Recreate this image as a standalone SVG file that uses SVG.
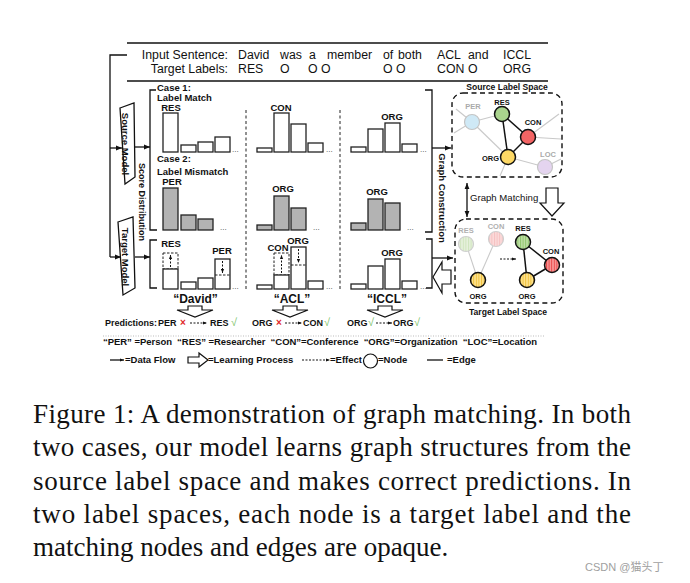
<svg xmlns="http://www.w3.org/2000/svg" width="690" height="583" viewBox="0 0 690 583">
<defs>
<style>
.t{font-family:"Liberation Sans",Arial,sans-serif;font-weight:bold;fill:#111}
.r{font-family:"Liberation Sans",Arial,sans-serif;fill:#111}
.m{text-anchor:middle}
.cap{font-family:"Liberation Serif","Times New Roman",serif;font-size:27px;fill:#111}
.bar{fill:#fff;stroke:#222;stroke-width:1.3}
.gbar{fill:#b3b3b3;stroke:#222;stroke-width:1.3}
.dbar{fill:none;stroke:#222;stroke-width:1;stroke-dasharray:2.5,1.5}
.ln{stroke:#111;stroke-width:1.3;fill:none}
.sep{stroke:#222;stroke-width:1;stroke-dasharray:3,2.5}
.ge{stroke:#c9c9c9;stroke-width:1.1}
.be{stroke:#111;stroke-width:1.5}
.box{fill:none;stroke:#111;stroke-width:1.4;stroke-dasharray:5,3.5}
.hol{fill:#fff;stroke:#111;stroke-width:1.2}
.da{stroke:#111;stroke-width:1;stroke-dasharray:2,1.5;fill:none}
.dots{font-family:"Liberation Sans",Arial,sans-serif;font-size:8px;fill:#444}
.x{font-family:"Liberation Sans",Arial,sans-serif;font-weight:bold;font-size:10px;fill:#e02828}
.ok{font-family:"Liberation Sans",Arial,sans-serif;font-size:11px;fill:#78bf63}
</style>
<marker id="ah" viewBox="0 0 10 10" refX="10" refY="5" markerWidth="6" markerHeight="6" markerUnits="userSpaceOnUse" orient="auto-start-reverse"><path d="M0,1 L10,5 L0,9 z" fill="#111"/></marker>
<marker id="as" viewBox="0 0 10 10" refX="10" refY="5" markerWidth="4" markerHeight="4" markerUnits="userSpaceOnUse" orient="auto-start-reverse"><path d="M0,1 L10,5 L0,9 z" fill="#111"/></marker>
<pattern id="pg" width="2.6" height="4" patternUnits="userSpaceOnUse"><rect width="2.6" height="4" fill="#bfe0a6"/><rect width="1" height="4" fill="#8fc46c"/></pattern>
<pattern id="py" width="2.6" height="4" patternUnits="userSpaceOnUse"><rect width="2.6" height="4" fill="#fde38f"/><rect width="1" height="4" fill="#efbf3a"/></pattern>
<pattern id="pr" width="2.6" height="4" patternUnits="userSpaceOnUse"><rect width="2.6" height="4" fill="#f89a9a"/><rect width="1" height="4" fill="#e64848"/></pattern>
<pattern id="pgf" width="2.6" height="4" patternUnits="userSpaceOnUse"><rect width="2.6" height="4" fill="#e6f1dc"/><rect width="1" height="4" fill="#cfe4bd"/></pattern>
<pattern id="prf" width="2.6" height="4" patternUnits="userSpaceOnUse"><rect width="2.6" height="4" fill="#fbdada"/><rect width="1" height="4" fill="#f5c0c0"/></pattern>
</defs>
<rect width="690" height="583" fill="#fff"/>

<g id="header">
<line x1="127" y1="43" x2="548" y2="43" stroke="#111" stroke-width="1.6"/>
<line x1="127" y1="81" x2="548" y2="81" stroke="#111" stroke-width="1.3"/>
<text class="r" font-size="12.3" x="228" y="59" text-anchor="end">Input Sentence:</text>
<text class="r" font-size="12.3" x="228" y="73" text-anchor="end">Target Labels:</text>
<g class="r" font-size="12.3">
<text x="238" y="59">David</text><text x="280" y="59">was</text><text x="309" y="59">a</text><text x="327" y="59">member</text><text x="383" y="59">of</text><text x="398" y="59">both</text><text x="437" y="59">ACL</text><text x="468" y="59">and</text><text x="503" y="59">ICCL</text>
<text x="238" y="73">RES</text><text x="280" y="73">O</text><text x="308" y="73">O</text><text x="321" y="73">O</text><text x="383" y="73">O</text><text x="396" y="73">O</text><text x="437" y="73">CON</text><text x="468" y="73">O</text><text x="503" y="73">ORG</text>
</g>
</g>

<g id="source-model">
<polygon points="120,108 134,103 135,177 125,184" fill="#fff" stroke="#111" stroke-width="1.3"/>
<text class="t m" font-size="9.5" transform="translate(125,144) rotate(90)" dy="3.3">Source Model</text>
</g>
<g id="target-model">
<polygon points="118,222 133,217 135,288 123,295" fill="#fff" stroke="#111" stroke-width="1.3"/>
<text class="t m" font-size="9.5" transform="translate(125,257) rotate(90)" dy="3.3">Target Model</text>
</g>
<g id="score-distribution">
<text class="t m" font-size="9" transform="translate(142,202) rotate(90)" dy="3">Score Distribution</text>
</g>

<g id="case-labels">
<text class="t" font-size="9.5" x="157" y="91">Case 1:</text>
<text class="t" font-size="9.5" x="157" y="101">Label Match</text>
<text class="t" font-size="9.5" x="157" y="162">Case 2:</text>
<text class="t" font-size="9.5" x="157" y="175">Label Mismatch</text>
</g>

<g id="separators">
<line class="sep" x1="246" y1="110" x2="246" y2="289"/>
<line class="sep" x1="340" y1="110" x2="340" y2="289"/>
</g>

<g id="bars-david">
<text class="t m" font-size="9.5" x="171" y="111">RES</text>
<rect class="bar" x="163" y="113" width="15" height="39"/>
<rect class="bar" x="181" y="145" width="15" height="7"/>
<rect class="bar" x="198" y="142" width="15" height="10"/>
<rect class="bar" x="215" y="137" width="15" height="15"/>
<text class="dots" x="232" y="152">...</text>
<text class="t m" font-size="9.5" x="172" y="185">PER</text>
<rect class="gbar" x="163" y="188" width="15" height="42"/>
<rect class="gbar" x="181" y="215" width="15" height="15"/>
<rect class="gbar" x="198" y="219" width="15" height="11"/>
<text class="dots" x="220" y="230">...</text>
<text class="t m" font-size="9.5" x="171" y="247">RES</text>
<rect class="dbar" x="163" y="253" width="15" height="16"/>
<rect class="bar" x="163" y="269" width="15" height="20"/>
<line class="da" x1="170.5" y1="267" x2="170.5" y2="255" marker-end="url(#as)"/>
<rect class="bar" x="181" y="282" width="15" height="7"/>
<rect class="bar" x="198" y="278" width="15" height="11"/>
<text class="t m" font-size="9.5" x="222" y="254">PER</text>
<rect class="bar" x="215" y="259" width="15" height="30"/>
<line class="dbar" x1="215" y1="275" x2="230" y2="275"/>
<line class="da" x1="222.5" y1="261" x2="222.5" y2="273" marker-end="url(#as)"/>
<text class="dots" x="232" y="289">...</text>
</g>

<g id="bars-acl">
<text class="t m" font-size="9.5" x="281" y="111">CON</text>
<rect class="bar" x="257" y="148" width="15" height="4"/>
<rect class="bar" x="274" y="113" width="15" height="39"/>
<rect class="bar" x="291" y="124" width="15" height="28"/>
<rect class="bar" x="308" y="143" width="15" height="9"/>
<text class="dots" x="326" y="152">...</text>
<text class="t m" font-size="9.5" x="283" y="192">ORG</text>
<rect class="gbar" x="257" y="225" width="15" height="5"/>
<rect class="gbar" x="274" y="196" width="15" height="34"/>
<rect class="gbar" x="291" y="208" width="15" height="22"/>
<text class="dots" x="313" y="230">...</text>
<text class="t m" font-size="9.5" x="278" y="251">CON</text>
<text class="t m" font-size="9.5" x="298" y="244">ORG</text>
<rect class="bar" x="257" y="285" width="15" height="4"/>
<rect class="dbar" x="274" y="253" width="15" height="22"/>
<rect class="bar" x="274" y="275" width="15" height="14"/>
<line class="da" x1="281.5" y1="273" x2="281.5" y2="255" marker-end="url(#as)"/>
<rect class="bar" x="291" y="247" width="15" height="42"/>
<line class="dbar" x1="291" y1="265" x2="306" y2="265"/>
<line class="da" x1="298.5" y1="249" x2="298.5" y2="263" marker-end="url(#as)"/>
<rect class="bar" x="308" y="281" width="15" height="8"/>
<text class="dots" x="326" y="289">...</text>
</g>

<g id="bars-iccl">
<text class="t m" font-size="9.5" x="392" y="120">ORG</text>
<rect class="bar" x="351" y="147" width="15" height="5"/>
<rect class="bar" x="368" y="129" width="15" height="23"/>
<rect class="bar" x="385" y="123" width="15" height="29"/>
<rect class="bar" x="402" y="144" width="15" height="8"/>
<text class="dots" x="420" y="152">...</text>
<text class="t m" font-size="9.5" x="377" y="195">ORG</text>
<rect class="gbar" x="351" y="223" width="15" height="7"/>
<rect class="gbar" x="368" y="199" width="15" height="31"/>
<rect class="gbar" x="385" y="203" width="15" height="27"/>
<text class="dots" x="407" y="230">...</text>
<text class="t m" font-size="9.5" x="392" y="256">ORG</text>
<rect class="bar" x="351" y="284" width="15" height="5"/>
<rect class="bar" x="368" y="266" width="15" height="23"/>
<rect class="bar" x="385" y="259" width="15" height="30"/>
<rect class="bar" x="402" y="281" width="15" height="8"/>
<text class="dots" x="420" y="289">...</text>
</g>

<g id="graph-construction">
<text class="t m" font-size="9.5" transform="translate(442,198) rotate(90)" dy="3.3">Graph Construction</text>
</g>

<g id="source-label-space">
<text class="t m" font-size="8.6" x="507" y="90">Source Label Space</text>
<rect class="box" x="452" y="93" width="110" height="84" rx="11"/>
<line class="ge" x1="472" y1="122" x2="456" y2="109"/>
<line class="ge" x1="472" y1="122" x2="454" y2="133"/>
<line class="ge" x1="472" y1="122" x2="502" y2="114"/>
<line class="ge" x1="472" y1="122" x2="508" y2="157"/>
<line class="ge" x1="528" y1="137" x2="559" y2="114"/>
<line class="ge" x1="528" y1="137" x2="561" y2="139"/>
<line class="ge" x1="508" y1="157" x2="545" y2="167"/>
<line class="ge" x1="508" y1="157" x2="500" y2="176"/>
<line class="ge" x1="545" y1="167" x2="561" y2="159"/>
<line class="be" x1="502" y1="114" x2="508" y2="157"/>
<line class="be" x1="502" y1="114" x2="528" y2="137"/>
<line class="be" x1="528" y1="137" x2="508" y2="157"/>
<circle cx="472" cy="122" r="7.5" fill="#cfe9f6" stroke="#c4c4c4" stroke-width="1.2"/>
<circle cx="545" cy="167" r="7.5" fill="#e4d4ef" stroke="#c4c4c4" stroke-width="1.2"/>
<circle cx="502" cy="114" r="7.5" fill="#a9d38d" stroke="#111" stroke-width="1.5"/>
<circle cx="528" cy="137" r="7.5" fill="#f36464" stroke="#111" stroke-width="1.5"/>
<circle cx="508" cy="157" r="7.5" fill="#fdd865" stroke="#111" stroke-width="1.5"/>
<g font-size="7.5">
<text class="t m" x="473" y="109" style="fill:#aaa">PER</text>
<text class="t m" x="502" y="105">RES</text>
<text class="t m" x="533" y="125">CON</text>
<text class="t" x="499" y="161" text-anchor="end">ORG</text>
<text class="t m" x="548" y="157" style="fill:#aaa">LOC</text>
</g>
</g>

<g id="graph-matching">
<line class="ln" x1="467" y1="183" x2="467" y2="217" marker-start="url(#ah)" marker-end="url(#ah)"/>
<text class="r" font-size="9.6" x="470" y="201">Graph Matching</text>
<polygon class="hol" points="546,188 558,188 558,203 564,203 552,216 540,203 546,203"/>
</g>

<g id="target-label-space">
<rect class="box" x="455" y="219" width="108" height="84" rx="11"/>
<line class="ge" x1="466" y1="244" x2="478" y2="280"/>
<line class="ge" x1="496" y1="239" x2="478" y2="280"/>
<circle cx="466" cy="244" r="7.5" fill="url(#pgf)" stroke="#cfcfcf" stroke-width="1.2"/>
<circle cx="496" cy="239" r="7.5" fill="url(#prf)" stroke="#cfcfcf" stroke-width="1.2"/>
<circle cx="478" cy="280" r="7.5" fill="url(#py)" stroke="#111" stroke-width="1.5"/>
<line class="da" x1="500" y1="259" x2="516" y2="259" marker-end="url(#as)"/>
<line class="be" x1="523" y1="242" x2="527" y2="280"/>
<line class="be" x1="523" y1="242" x2="552" y2="265"/>
<line class="be" x1="552" y1="265" x2="527" y2="280"/>
<circle cx="523" cy="242" r="7.5" fill="url(#pg)" stroke="#111" stroke-width="1.5"/>
<circle cx="552" cy="265" r="7.5" fill="url(#pr)" stroke="#111" stroke-width="1.5"/>
<circle cx="527" cy="280" r="7.5" fill="url(#py)" stroke="#111" stroke-width="1.5"/>
<g font-size="7.5">
<text class="t m" x="466" y="233" style="fill:#b0b0b0">RES</text>
<text class="t m" x="496" y="229" style="fill:#b0b0b0">CON</text>
<text class="t m" x="478" y="299">ORG</text>
<text class="t m" x="523" y="231">RES</text>
<text class="t m" x="551" y="254">CON</text>
<text class="t m" x="527" y="299">ORG</text>
</g>
<text class="t m" font-size="8.6" x="508" y="315">Target Label Space</text>
</g>

<g id="connectors">
<polyline class="ln" points="127,55 110,55 110,257"/>
<line class="ln" x1="110" y1="148" x2="122" y2="148" marker-end="url(#ah)"/>
<line class="ln" x1="110" y1="257" x2="121" y2="257" marker-end="url(#ah)"/>
<line class="ln" x1="135" y1="147" x2="150" y2="147" marker-end="url(#ah)"/>
<line class="ln" x1="135" y1="257" x2="150" y2="257" marker-end="url(#ah)"/>
<polyline class="ln" points="156,90 150,90 150,230 157,230"/>
<polyline class="ln" points="157,240 150,240 150,288 157,288"/>
<polyline class="ln" points="425,90 432,90 432,232 425,232"/>
<polyline class="ln" points="426,239 432,239 432,288 426,288"/>
<line class="ln" x1="432" y1="148" x2="451" y2="148" marker-end="url(#ah)"/>
<line class="ln" x1="432" y1="258" x2="453" y2="258" marker-end="url(#ah)"/>
<polygon class="hol" points="433,277 442,262 442,270 451,270 451,284 442,284 442,293"/>
</g>

<g id="tokens">
<text class="t m" font-size="12" x="195.5" y="303">“David”</text>
<text class="t m" font-size="12" x="292" y="303">“ACL”</text>
<text class="t m" font-size="12" x="387" y="303">“ICCL”</text>
<polygon class="hol" points="188,306 202,306 202,310 213,310 195,317 177,310 188,310"/>
<polygon class="hol" points="283,306 297,306 297,310 308,310 290,317 272,310 283,310"/>
<polygon class="hol" points="378,306 392,306 392,310 403,310 385,317 367,310 378,310"/>
</g>

<g id="predictions">
<text class="t" font-size="9" x="105" y="326">Predictions:</text>
<text class="t" font-size="9" x="158" y="326">PER</text>
<text class="x" x="180" y="326">×</text>
<line class="da" x1="190" y1="323" x2="207" y2="323" marker-end="url(#as)"/>
<text class="t" font-size="9" x="210" y="326">RES</text>
<text class="ok" x="231" y="326">√</text>
<text class="t" font-size="9" x="252" y="326">ORG</text>
<text class="x" x="276" y="326">×</text>
<line class="da" x1="285" y1="323" x2="302" y2="323" marker-end="url(#as)"/>
<text class="t" font-size="9" x="303" y="326">CON</text>
<text class="ok" x="324" y="326">√</text>
<text class="t" font-size="9" x="347" y="326">ORG</text>
<text class="ok" x="368" y="326">√</text>
<line class="da" x1="376" y1="323" x2="392" y2="323" marker-end="url(#as)"/>
<text class="t" font-size="9" x="393" y="326">ORG</text>
<text class="ok" x="414" y="326">√</text>
</g>

<g id="legend">
<line x1="103" y1="336" x2="545" y2="336" stroke="#bbb" stroke-width="1" stroke-dasharray="1,1.5"/>
<text class="t" font-size="9.5" x="103" y="345" textLength="434" lengthAdjust="spacing" xml:space="preserve">“PER” =Person  “RES” =Researcher  “CON”=Conference  “ORG”=Organization  “LOC”=Location</text>
<line class="ln" x1="110" y1="360" x2="124" y2="360" marker-end="url(#as)"/>
<text class="t" font-size="9.5" x="125" y="363">=Data Flow</text>
<polygon class="hol" points="188,357 199,357 199,353 208,360 199,367 199,363 188,363"/>
<text class="t" font-size="9.5" x="208" y="363">=Learning Process</text>
<line class="da" x1="302" y1="360" x2="330" y2="360" marker-end="url(#as)"/>
<text class="t" font-size="9.5" x="330" y="363">=Effect</text>
<circle cx="370.5" cy="361" r="7" fill="#fff" stroke="#111" stroke-width="1.2"/>
<text class="t" font-size="9.5" x="378" y="363">=Node</text>
<line class="ln" x1="427" y1="360" x2="443" y2="360"/>
<text class="t" font-size="9.5" x="447" y="363">=Edge</text>
</g>

<g id="caption">
<text class="cap" x="33" y="423" textLength="598" lengthAdjust="spacing">Figure 1: A demonstration of graph matching. In both</text>
<text class="cap" x="33" y="456" textLength="598" lengthAdjust="spacing">two cases, our model learns graph structures from the</text>
<text class="cap" x="33" y="490" textLength="598" lengthAdjust="spacing">source label space and makes correct predictions.  In</text>
<text class="cap" x="33" y="523" textLength="598" lengthAdjust="spacing">two label spaces, each node is a target label and the</text>
<text class="cap" x="33" y="556">matching nodes and edges are opaque.</text>
</g>

<text x="585" y="571" font-family="'Liberation Sans','Noto Sans CJK SC',sans-serif" font-size="11" fill="#a0a0a0">CSDN @猫头丁</text>
</svg>
